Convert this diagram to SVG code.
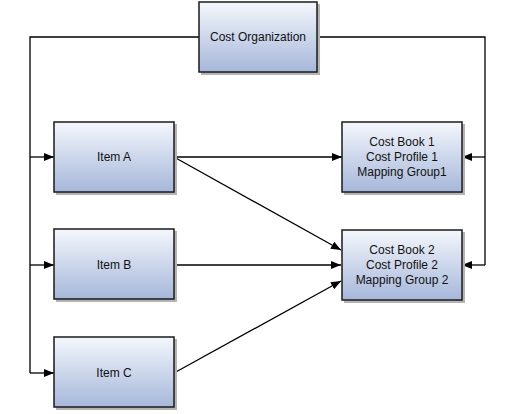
<svg xmlns="http://www.w3.org/2000/svg" width="516" height="414" viewBox="0 0 516 414">
<defs>
<linearGradient id="g" x1="0" y1="0" x2="0" y2="1">
<stop offset="0" stop-color="#f4f7fc"/>
<stop offset="1" stop-color="#a6b7da"/>
</linearGradient>
<marker id="a" markerWidth="10" markerHeight="8" refX="10" refY="4" orient="auto" markerUnits="userSpaceOnUse">
<path d="M0,0 L10,4 L0,8 Z" fill="#000"/>
</marker>
<style>
.box{fill:url(#g);stroke:#1a1a1a;stroke-width:1.5}
.sh{fill:#b4b4b4}
.t{font-family:"Liberation Sans",Arial,sans-serif;font-size:12px;fill:#111;text-anchor:middle}
.c{fill:none;stroke:#000;stroke-width:1.3}
</style>
</defs>
<rect width="516" height="414" fill="#fff"/>
<g id="connectors">
<polyline class="c" points="199,37 30,37 30,373"/>
<line class="c" x1="30" y1="157" x2="54" y2="157" marker-end="url(#a)"/>
<line class="c" x1="30" y1="265" x2="54" y2="265" marker-end="url(#a)"/>
<line class="c" x1="30" y1="373" x2="54" y2="373" marker-end="url(#a)"/>
<polyline class="c" points="317,37 485,37 485,265"/>
<line class="c" x1="485" y1="157" x2="462" y2="157" marker-end="url(#a)"/>
<line class="c" x1="485" y1="265" x2="462" y2="265" marker-end="url(#a)"/>
<line class="c" x1="174" y1="157" x2="342" y2="157" marker-end="url(#a)"/>
<line class="c" x1="174" y1="157" x2="341" y2="250" marker-end="url(#a)"/>
<line class="c" x1="174" y1="265" x2="341" y2="265" marker-end="url(#a)"/>
<line class="c" x1="174" y1="373" x2="341" y2="281" marker-end="url(#a)"/>
</g>
<g id="cost-organization">
<rect class="sh" x="201" y="4" width="119" height="71"/>
<rect class="box" x="199" y="2" width="118" height="70"/>
<text class="t" x="258" y="41">Cost Organization</text>
</g>
<g id="item-a">
<rect class="sh" x="56" y="124" width="121" height="71"/>
<rect class="box" x="54" y="122" width="120" height="70"/>
<text class="t" x="114" y="161">Item A</text>
</g>
<g id="item-b">
<rect class="sh" x="56" y="231" width="121" height="71"/>
<rect class="box" x="54" y="229" width="120" height="70"/>
<text class="t" x="114" y="269">Item B</text>
</g>
<g id="item-c">
<rect class="sh" x="56" y="339" width="121" height="71"/>
<rect class="box" x="54" y="337" width="120" height="70"/>
<text class="t" x="114" y="377">Item C</text>
</g>
<g id="cost-book-1">
<rect class="sh" x="344" y="124" width="121" height="71"/>
<rect class="box" x="342" y="122" width="120" height="70"/>
<text class="t" x="402" y="146">Cost Book 1</text>
<text class="t" x="402" y="161">Cost Profile 1</text>
<text class="t" x="402" y="176">Mapping Group1</text>
</g>
<g id="cost-book-2">
<rect class="sh" x="344" y="232" width="121" height="71"/>
<rect class="box" x="342" y="230" width="120" height="70"/>
<text class="t" x="402" y="254">Cost Book 2</text>
<text class="t" x="402" y="269">Cost Profile 2</text>
<text class="t" x="402" y="284">Mapping Group 2</text>
</g>
</svg>
